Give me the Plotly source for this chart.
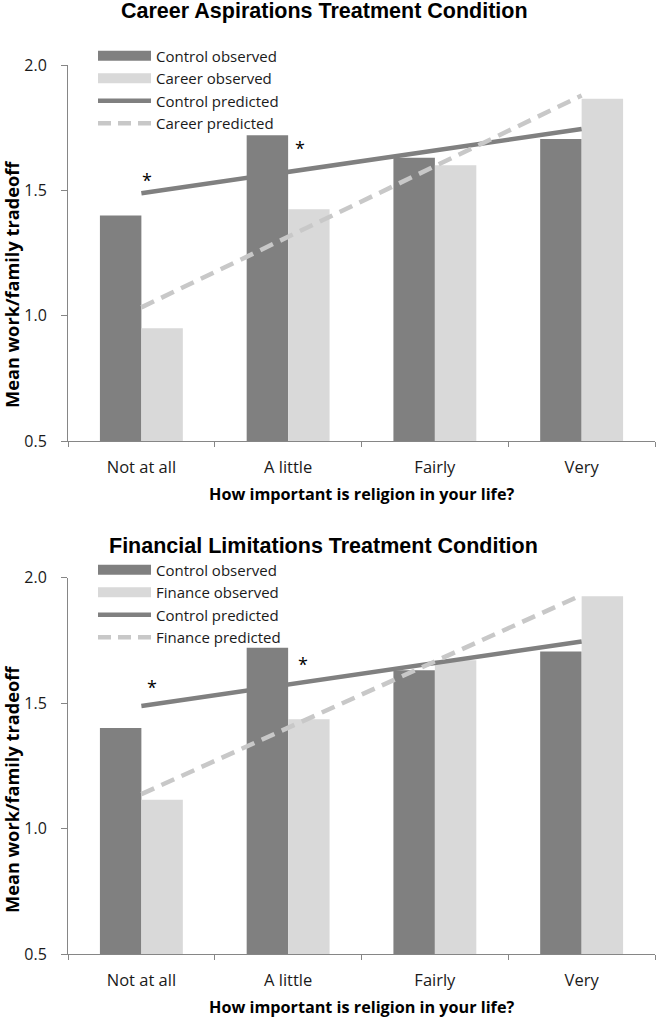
import plotly.graph_objects as go

categories = ["Not at all", "A little", "Fairly", "Very"]
control_observed = [1.40, 1.72, 1.63, 1.705]
career_observed = [0.95, 1.425, 1.60, 1.865]
control_predicted = [1.488, 1.574, 1.66, 1.745]
career_predicted = [1.033, 1.315, 1.597, 1.878]
finance_observed = [1.115, 1.435, 1.67, 1.925]
finance_predicted = [1.137, 1.401, 1.665, 1.93]
star_x_top = [0.04, 1.08]
star_y_top = [1.54, 1.67]
star_x_bottom = [0.075, 1.10]
star_y_bottom = [1.565, 1.655]
y_ticks = [0.5, 1.0, 1.5, 2.0]
y_ticktext = ["0.5", "1.0", "1.5", "2.0"]

DARK = "#808080"
LIGHT = "#d9d9d9"
DASH = "#c8c8c8"
FONT = "Open Sans"
W, H = 656, 1020


def px(x):
    return x / W


def py(y):
    return 1 - y / H


fig = go.Figure()


def add_panel(xref, yref, obs_name, obs_vals, pred_name, pred_vals, legend):
    fig.add_trace(go.Bar(x=categories, y=control_observed, marker_color=DARK, marker_line_width=0,
                         showlegend=False, xaxis=xref, yaxis=yref))
    fig.add_trace(go.Bar(x=categories, y=obs_vals, marker_color=LIGHT, marker_line_width=0,
                         showlegend=False, xaxis=xref, yaxis=yref))
    fig.add_trace(go.Scatter(x=categories, y=control_predicted, mode="lines",
                             line=dict(color=DARK, width=4.5), showlegend=False,
                             xaxis=xref, yaxis=yref))
    fig.add_trace(go.Scatter(x=categories, y=pred_vals, mode="lines",
                             line=dict(color=DASH, width=4.5, dash="14px,8px"), showlegend=False,
                             xaxis=xref, yaxis=yref))
    # legend keys
    fig.add_trace(go.Scatter(x=[None], y=[None], mode="lines", name="Control observed",
                             line=dict(color=DARK, width=11), legend=legend,
                             xaxis=xref, yaxis=yref))
    fig.add_trace(go.Scatter(x=[None], y=[None], mode="lines", name=obs_name,
                             line=dict(color=LIGHT, width=11), legend=legend,
                             xaxis=xref, yaxis=yref))
    fig.add_trace(go.Scatter(x=[None], y=[None], mode="lines", name="Control predicted",
                             line=dict(color=DARK, width=4.5), legend=legend,
                             xaxis=xref, yaxis=yref))
    fig.add_trace(go.Scatter(x=[None], y=[None], mode="lines", name=pred_name,
                             line=dict(color=DASH, width=4.5, dash="13px,7px"), legend=legend,
                             xaxis=xref, yaxis=yref))


add_panel("x", "y", "Career observed", career_observed, "Career predicted", career_predicted, "legend")
add_panel("x2", "y2", "Finance observed", finance_observed, "Finance predicted", finance_predicted, "legend2")

xcommon = dict(type="category", range=[-0.5, 3.5], showline=True, linecolor="#868686", linewidth=1,
               ticks="outside", tickson="boundaries", ticklen=5, tickcolor="#868686",
               showgrid=False, zeroline=False, tickfont=dict(family=FONT, size=16.5, color="#1a1a1a"),
               ticklabelstandoff=11, automargin=False, fixedrange=True)
ycommon = dict(range=[0.5, 2.0], tickvals=y_ticks, ticktext=y_ticktext,
               showline=True, linecolor="#868686", linewidth=1, ticks="outside", ticklen=6,
               tickcolor="#868686", showgrid=False, zeroline=False, ticklabelstandoff=11,
               tickfont=dict(family=FONT, size=16, color="#1a1a1a"), automargin=False, fixedrange=True)

xdom = [px(68), px(655)]
legend_common = dict(xanchor="left", yanchor="top", bgcolor="rgba(0,0,0,0)", borderwidth=0,
                     font=dict(family=FONT, size=15, color="#1a1a1a"), itemwidth=53, tracegroupgap=0)
fig.update_layout(
    width=W, height=H, margin=dict(l=0, r=0, t=0, b=0, autoexpand=False),
    paper_bgcolor="white", plot_bgcolor="white",
    barmode="group", bargap=0.435, bargroupgap=0,
    xaxis=dict(domain=xdom, anchor="y", **xcommon),
    yaxis=dict(domain=[py(441), py(65)], anchor="x", **ycommon),
    xaxis2=dict(domain=xdom, anchor="y2", **xcommon),
    yaxis2=dict(domain=[py(954), py(577.5)], anchor="x2", **ycommon),
    legend=dict(x=px(93), y=py(39.5), **legend_common),
    legend2=dict(x=px(93), y=py(553.5), **legend_common),
    showlegend=True,
)

annotations = [
    dict(text="<b>Career Aspirations Treatment Condition</b>", xref="paper", yref="paper",
         x=px(324), y=py(11), xanchor="center", yanchor="middle", showarrow=False,
         font=dict(family="Liberation Sans", size=21.5, color="black")),
    dict(text="<b>Financial Limitations Treatment Condition</b>", xref="paper", yref="paper",
         x=px(323), y=py(546), xanchor="center", yanchor="middle", showarrow=False,
         font=dict(family="Liberation Sans", size=21.5, color="black")),
    dict(text="<b>How important is religion in your life?</b>", xref="paper", yref="paper",
         x=px(361), y=py(494), xanchor="center", yanchor="middle", showarrow=False,
         font=dict(family=FONT, size=16.2, color="black")),
    dict(text="<b>How important is religion in your life?</b>", xref="paper", yref="paper",
         x=px(361), y=py(1007), xanchor="center", yanchor="middle", showarrow=False,
         font=dict(family=FONT, size=16.2, color="black")),
    dict(text="<b>Mean work/family tradeoff</b>", xref="paper", yref="paper", textangle=-90,
         x=px(12), y=py(285), xanchor="center", yanchor="middle", showarrow=False,
         font=dict(family=FONT, size=18.2, color="black")),
    dict(text="<b>Mean work/family tradeoff</b>", xref="paper", yref="paper", textangle=-90,
         x=px(12), y=py(790), xanchor="center", yanchor="middle", showarrow=False,
         font=dict(family=FONT, size=18.2, color="black")),
]
for sx, sy in zip(star_x_top, star_y_top):
    annotations.append(dict(text="*", x=sx, y=sy, xref="x", yref="y", showarrow=False,
                            font=dict(family=FONT, size=18, color="black")))
for sx, sy in zip(star_x_bottom, star_y_bottom):
    annotations.append(dict(text="*", x=sx, y=sy, xref="x2", yref="y2", showarrow=False,
                            font=dict(family=FONT, size=18, color="black")))
fig.update_layout(annotations=annotations)

# remove the default 8px page margin so the 656x1020 figure fills the window exactly
fig.write_html("out.html", config={"displayModeBar": False},
               post_script="document.body.style.margin='0px';")
